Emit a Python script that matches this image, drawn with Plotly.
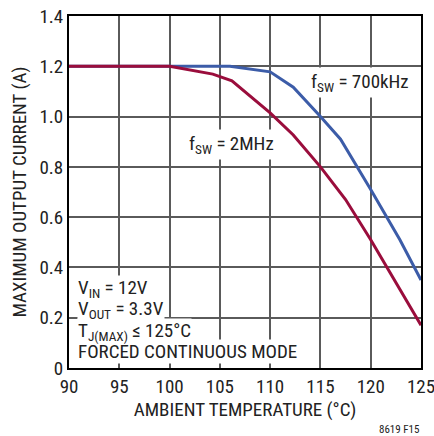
import plotly.graph_objects as go

temp_700k = [90, 100, 106, 110, 112.3, 115, 117, 120, 122.9, 125]
cur_700k = [1.2, 1.2, 1.2, 1.178, 1.117, 1.0, 0.91, 0.71, 0.51, 0.35]

temp_2m = [90, 100, 104.3, 106.2, 110, 112.3, 115, 117.5, 120, 122.5, 125]
cur_2m = [1.2, 1.2, 1.169, 1.142, 1.015, 0.927, 0.80, 0.67, 0.51, 0.34, 0.17]

x_ticks = [90, 95, 100, 105, 110, 115, 120, 125]
y_ticks = [0, 0.2, 0.4, 0.6, 0.8, 1.0, 1.2, 1.4]
y_tick_text = ["0", "0.2", "0.4", "0.6", "0.8", "1.0", "1.2", "1.4"]

FONT = "Roboto Condensed, sans-serif"
FS = 19

fig = go.Figure()
fig.add_trace(go.Scatter(x=temp_700k, y=cur_700k, mode="lines",
                         line=dict(color="#3c5ca8", width=3), showlegend=False))
fig.add_trace(go.Scatter(x=temp_2m, y=cur_2m, mode="lines",
                         line=dict(color="#9a0d3c", width=3), showlegend=False))

fig.update_layout(
    width=434, height=436,
    margin=dict(l=69, r=13, t=16, b=68),
    paper_bgcolor="white", plot_bgcolor="white",
    font=dict(family=FONT, size=FS, color="#222"),
    xaxis=dict(range=[90, 125], tickvals=x_ticks, showgrid=True, automargin=False,
               gridcolor="#5a5a5a", gridwidth=1.5, showline=True, linecolor="black",
               linewidth=2, mirror=True, zeroline=False, ticks="",
               ticklabeloverflow="allow",
               title=dict(text="AMBIENT TEMPERATURE (°C)", font=dict(size=FS), standoff=6),
               tickfont=dict(size=FS)),
    yaxis=dict(range=[0, 1.4], tickvals=y_ticks, ticktext=y_tick_text, showgrid=True,
               automargin=False, ticklabeloverflow="allow",
               gridcolor="#5a5a5a", gridwidth=1.5, showline=True, linecolor="black",
               linewidth=2, mirror=True, zeroline=False, ticks="",
               title=dict(text="MAXIMUM OUTPUT CURRENT (A)", font=dict(size=FS), standoff=8),
               tickfont=dict(size=FS)),
)

fig.add_annotation(x=118.9, y=1.135, xref="x", yref="y", text="f<sub>SW</sub> = 700kHz",
                   showarrow=False, bgcolor="white", font=dict(size=FS), borderpad=2)
fig.add_annotation(x=106.2, y=0.89, xref="x", yref="y", text="f<sub>SW</sub> = 2MHz",
                   showarrow=False, bgcolor="white", font=dict(size=FS), borderpad=2)

cond_lines = ["V<sub>IN</sub> = 12V", "V<sub>OUT</sub> = 3.3V",
              "T<sub>J(MAX)</sub> ≤ 125°C", "FORCED CONTINUOUS MODE"]
cond_y = [0.315, 0.232, 0.147, 0.065]
for txt, yy in reversed(list(zip(cond_lines, cond_y))):
    fig.add_annotation(x=90.8, y=yy, xref="x", yref="y", text=txt, showarrow=False,
                       xanchor="left", bgcolor="white", font=dict(size=FS), borderpad=0)

fig.add_annotation(x=1.0, y=-0.198, xref="paper", yref="paper", text="8619 F15",
                   showarrow=False, xanchor="right", font=dict(size=11))

fig.write_html("out.html", config={"displayModeBar": False},
               post_script="document.body.style.margin='0';")
